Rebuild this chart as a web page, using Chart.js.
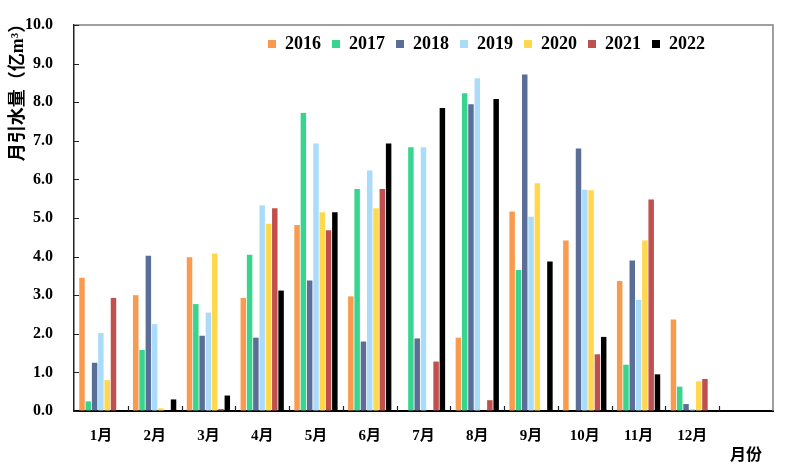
<!DOCTYPE html>
<html>
<head>
<meta charset="utf-8">
<script src="https://cdn.jsdelivr.net/npm/chart.js@4.4.1/dist/chart.umd.min.js"></script>
<style>
  html, body { margin: 0; padding: 0; background: #fff; }
</style>
</head>
<body>
<canvas id="flowChart" width="800" height="470"></canvas>
<script>
// months (13th slot is left empty, as in the original figure)
const months = ["1月", "2月", "3月", "4月", "5月", "6月", "7月", "8月", "9月", "10月", "11月", "12月", ""];
const years = ["2016", "2017", "2018", "2019", "2020", "2021", "2022"];
const yearColors = ["#F99A4E", "#38D58E", "#5B6E97", "#AADCF9", "#FFD84E", "#C0504D", "#000000"];

const v2016 = [3.45, 3.00, 3.98, 2.93, 4.82, 2.97, 0.00, 1.90, 5.17, 4.42, 3.37, 2.37];
const v2017 = [0.25, 1.58, 2.77, 4.05, 7.72, 5.75, 6.83, 8.23, 3.65, 0.00, 1.20, 0.63];
const v2018 = [1.25, 4.02, 1.95, 1.90, 3.38, 1.80, 1.88, 7.95, 8.72, 6.80, 3.90, 0.18];
const v2019 = [2.02, 2.25, 2.55, 5.33, 6.93, 6.23, 6.83, 8.62, 5.03, 5.73, 2.88, 0.05];
const v2020 = [0.80, 0.07, 4.08, 4.85, 5.15, 5.25, 0.00, 0.00, 5.90, 5.72, 4.42, 0.77];
const v2021 = [2.93, 0.00, 0.05, 5.25, 4.68, 5.75, 1.28, 0.28, 0.00, 1.47, 5.48, 0.83];
const v2022 = [0.00, 0.30, 0.40, 3.12, 5.15, 6.93, 7.85, 8.08, 3.87, 1.92, 0.95, 0.00];

const yMin = 0, yMax = 10, yStep = 1;
const yTitle = "月引水量（亿m³）";
const xTitle = "月份";

const series = [v2016, v2017, v2018, v2019, v2020, v2021, v2022];
const serif = "'Liberation Serif', 'Noto Sans CJK SC', serif";

// inward tick marks, grey top/right frame, axis titles, legend in a row inside the plot
const frame = {
  id: "frame",
  beforeUpdate(chart) {
    chart.legend.isHorizontal = () => true;
  },
  afterLayout(chart) {
    const lg = chart.legend, a = chart.chartArea;
    lg.left = a.left + 63;
    lg.right = lg.left + a.width;
    lg.top = a.top - 1;
  },
  afterDraw(chart) {
    const { ctx, chartArea: a, scales } = chart;
    ctx.save();
    ctx.strokeStyle = "#808080";
    ctx.lineWidth = 1.5;
    ctx.beginPath();
    ctx.moveTo(a.left, a.top);
    ctx.lineTo(a.right, a.top);
    ctx.lineTo(a.right, a.bottom);
    ctx.stroke();

    ctx.strokeStyle = "#222";
    ctx.lineWidth = 1.2;
    ctx.beginPath();
    scales.y.ticks.forEach(t => {
      const y = Math.round(scales.y.getPixelForValue(t.value)) + 0.5;
      ctx.moveTo(a.left, y);
      ctx.lineTo(a.left + 5, y);
    });
    for (let i = 1; i < months.length; i++) {
      const x = Math.round((scales.x.getPixelForValue(i - 1) + scales.x.getPixelForValue(i)) / 2) + 0.5;
      ctx.moveTo(x, a.bottom);
      ctx.lineTo(x, a.bottom - 5);
    }
    ctx.stroke();

    ctx.fillStyle = "#000";
    ctx.textAlign = "center";
    ctx.textBaseline = "middle";
    ctx.font = "bold 16px " + serif;
    ctx.fillText(xTitle, 746, 456);

    ctx.translate(18, 88);
    ctx.rotate(-Math.PI / 2);
    ctx.font = "bold 18px " + serif;
    ctx.fillText(yTitle, 0, 0);
    ctx.restore();
  }
};

new Chart(document.getElementById("flowChart"), {
  type: "bar",
  data: {
    labels: months,
    datasets: years.map((y, i) => ({
      label: y,
      data: series[i],
      backgroundColor: yearColors[i],
      borderWidth: 0,
      categoryPercentage: 0.82,
      barPercentage: 0.87
    }))
  },
  options: {
    responsive: false,
    animation: false,
    devicePixelRatio: 1,
    layout: { padding: { top: 25, right: 27, bottom: 0, left: 0 } },
    plugins: {
      legend: {
        position: "chartArea",
        align: "center",
        labels: {
          boxWidth: 8,
          boxHeight: 8,
          padding: 11,
          color: "#000",
          font: { family: serif, size: 18, weight: "bold" }
        }
      },
      tooltip: { enabled: false }
    },
    scales: {
      x: {
        grid: { display: false, drawTicks: false },
        border: { color: "#000", width: 2 },
        afterFit(scale) { scale.height = 59; },
        ticks: {
          color: "#000",
          padding: 16,
          maxRotation: 0,
          autoSkip: false,
          font: { family: serif, size: 15, weight: "bold" }
        }
      },
      y: {
        min: yMin,
        max: yMax,
        grid: { display: true, drawOnChartArea: false, drawTicks: true, tickLength: 18, color: "rgba(0,0,0,0)" },
        border: { color: "#222", width: 1.5 },
        afterFit(scale) { scale.width = 74; },
        ticks: {
          stepSize: yStep,
          color: "#000",
          padding: 3,
          callback: v => v.toFixed(1),
          font: { family: serif, size: 16, weight: "bold" }
        }
      }
    }
  },
  plugins: [frame]
});
</script>
</body>
</html>
